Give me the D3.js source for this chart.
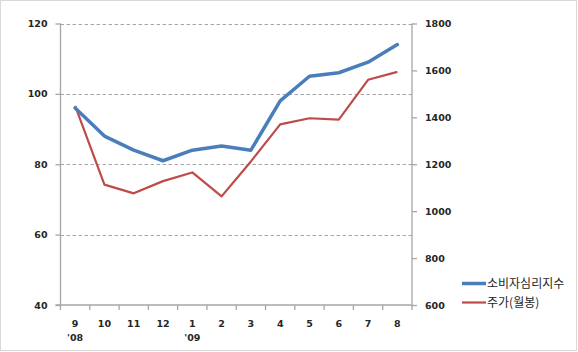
<!DOCTYPE html>
<html><head><meta charset="utf-8">
<script src="https://cdn.jsdelivr.net/npm/d3@7"></script>
<style>body{margin:0;background:#fff}svg{display:block}</style>
</head><body>
<svg id="c" width="578" height="352"></svg>
<script>
const months = ["9","10","11","12","1","2","3","4","5","6","7","8"];
const yearLabels = {"9":"'08","1":"'09"};
const sentiment = [96, 88, 84, 81, 84, 85.2, 84, 98, 105, 106, 109, 114];
const stock = [1449, 1113, 1076, 1128, 1165, 1063, 1212, 1370, 1396, 1390, 1560, 1594];
const leftTicks = [40, 60, 80, 100, 120];
const rightTicks = [600, 800, 1000, 1200, 1400, 1600, 1800];
const seriesNames = ["소비자심리지수", "주가(월봉)"];
const colors = ["#4a7ebb", "#be4b48"];

const svg = d3.select("#c");
const L = 60.5, R = 412, T = 23.5, B = 305;
const font = "DejaVu Sans, Verdana, sans-serif";

svg.append("rect").attr("x",0.5).attr("y",0.5).attr("width",576).attr("height",350)
  .attr("fill","#fff").attr("stroke","#d9d9d9");

const x = d3.scaleBand().domain(months.map((m,i)=>i)).range([L, R]);
const yL = d3.scaleLinear().domain([40,120]).range([B, T]);
const yR = d3.scaleLinear().domain([600,1800]).range([B, T]);

// gridlines
svg.append("g").selectAll("line").data(leftTicks.filter(t=>t>40)).join("line")
  .attr("x1",L).attr("x2",R).attr("y1",d=>Math.round(yL(d))+0.5).attr("y2",d=>Math.round(yL(d))+0.5)
  .attr("stroke","#a6a6a6").attr("stroke-width",1).attr("stroke-dasharray","3.5,2.5");

function styleAxis(g){
  g.selectAll("path,line").attr("stroke","#a6a6a6").attr("stroke-width",1.3);
  g.selectAll("text").attr("font-family",font).attr("font-size","9.5px").attr("font-weight","bold").attr("fill","#262626");
}

const gl = svg.append("g").attr("transform",`translate(${L},0)`)
  .call(d3.axisLeft(yL).tickValues(leftTicks).tickFormat(d3.format("d")).tickSize(5).tickSizeOuter(0).tickPadding(8));
styleAxis(gl); gl.select(".domain").attr("d",`M0,${T}V${B}`);

const gr = svg.append("g").attr("transform",`translate(${R},0)`)
  .call(d3.axisRight(yR).tickValues(rightTicks).tickFormat(d3.format("d")).tickSize(5).tickSizeOuter(0).tickPadding(8));
styleAxis(gr); gr.select(".domain").attr("d",`M0,${T}V${B}`);

// bottom axis
const gb = svg.append("g").attr("transform",`translate(0,${B})`);
gb.append("line").attr("x1",L-5).attr("x2",R).attr("y1",0).attr("y2",0).attr("stroke","#a6a6a6").attr("stroke-width",1.3);
const bounds = months.map((m,i)=>x(i)).concat([R]);
gb.selectAll("line.t").data(bounds).join("line").attr("class","t")
  .attr("x1",d=>d).attr("x2",d=>d).attr("y1",0).attr("y2",5).attr("stroke","#a6a6a6").attr("stroke-width",1.3);
gb.selectAll("text.m").data(months).join("text").attr("class","m")
  .attr("x",(d,i)=>x(i)+x.bandwidth()/2).attr("y",22).attr("text-anchor","middle")
  .attr("font-family",font).attr("font-size","9.5px").attr("font-weight","bold").attr("fill","#262626").text(d=>d);
gb.selectAll("text.yr").data(months.map((m,i)=>[m,i]).filter(d=>yearLabels[d[0]])).join("text").attr("class","yr")
  .attr("x",d=>x(d[1])+x.bandwidth()/2).attr("y",36).attr("text-anchor","middle")
  .attr("font-family",font).attr("font-size","9.5px").attr("font-weight","bold").attr("fill","#262626").text(d=>yearLabels[d[0]]);

const cx = i => x(i)+x.bandwidth()/2;
svg.append("path").datum(stock).attr("fill","none").attr("stroke",colors[1]).attr("stroke-width",2.2)
  .attr("stroke-linejoin","round").attr("d",d3.line().x((d,i)=>cx(i)).y(d=>yR(d)));
svg.append("path").datum(sentiment).attr("fill","none").attr("stroke",colors[0]).attr("stroke-width",3.5)
  .attr("stroke-linejoin","round").attr("stroke-linecap","round").attr("d",d3.line().x((d,i)=>cx(i)).y(d=>yL(d)));

// legend
const lg = svg.append("g");
[283.5, 302.5].forEach((yy,k)=>{
  lg.append("line").attr("x1",462).attr("x2",486).attr("y1",yy).attr("y2",yy)
    .attr("stroke",colors[k]).attr("stroke-width",k===0?3.5:2.2);
  lg.append("text").attr("x",487).attr("y",yy+4.5).attr("font-family","Noto Sans CJK KR, sans-serif")
    .attr("font-size","12px").attr("fill","#262626").text(seriesNames[k]);
});
</script>
</body></html>
